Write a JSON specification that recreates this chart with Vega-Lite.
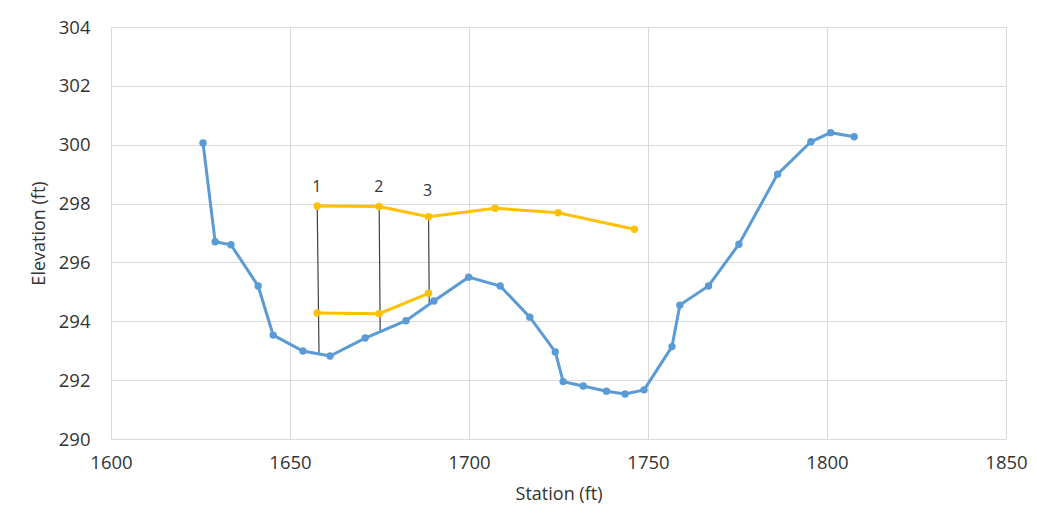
{
  "$schema": "https://vega.github.io/schema/vega-lite/v6.json",
  "width": 895,
  "height": 412,
  "autosize": "none",
  "padding": {"left": 111, "top": 27, "right": 31, "bottom": 92},
  "background": "white",
  "config": {
    "view": {"stroke": null},
    "font": "Open Sans",
    "axis": {
      "labelFont": "Open Sans",
      "titleFont": "Open Sans",
      "labelFontSize": 18.5,
      "titleFontSize": 18,
      "labelColor": "#333333",
      "titleColor": "#333333",
      "titleFontWeight": "normal",
      "gridColor": "#d9d9d9",
      "gridWidth": 1,
      "domain": false,
      "ticks": false,
      "labelFlush": false,
      "labelOverlap": false
    }
  },
  "datasets": {
    "bed": [
      {"station": 1625.7, "elev": 300.06},
      {"station": 1629.1, "elev": 296.7},
      {"station": 1633.5, "elev": 296.6},
      {"station": 1641.1, "elev": 295.2},
      {"station": 1645.3, "elev": 293.53},
      {"station": 1653.6, "elev": 292.99},
      {"station": 1661.2, "elev": 292.82},
      {"station": 1671.0, "elev": 293.43},
      {"station": 1682.4, "elev": 294.02},
      {"station": 1690.2, "elev": 294.69},
      {"station": 1699.9, "elev": 295.5},
      {"station": 1708.7, "elev": 295.2},
      {"station": 1717.0, "elev": 294.14},
      {"station": 1724.1, "elev": 292.96},
      {"station": 1726.3, "elev": 291.95},
      {"station": 1731.9, "elev": 291.8},
      {"station": 1738.4, "elev": 291.62},
      {"station": 1743.6, "elev": 291.53},
      {"station": 1748.9, "elev": 291.67},
      {"station": 1756.7, "elev": 293.14},
      {"station": 1758.9, "elev": 294.55},
      {"station": 1766.9, "elev": 295.2},
      {"station": 1775.4, "elev": 296.62},
      {"station": 1786.2, "elev": 299.0},
      {"station": 1795.5, "elev": 300.1},
      {"station": 1801.0, "elev": 300.41},
      {"station": 1807.6, "elev": 300.27}
    ],
    "ws": [
      {"series": "upper", "station": 1657.6, "elev": 297.92},
      {"series": "upper", "station": 1674.9, "elev": 297.9},
      {"series": "upper", "station": 1688.7, "elev": 297.55},
      {"series": "upper", "station": 1707.3, "elev": 297.84},
      {"series": "upper", "station": 1724.9, "elev": 297.69},
      {"series": "upper", "station": 1746.2, "elev": 297.13},
      {"series": "lower", "station": 1657.6, "elev": 294.28},
      {"series": "lower", "station": 1674.9, "elev": 294.26},
      {"series": "lower", "station": 1688.7, "elev": 294.95}
    ],
    "verticals": [
      {"x1": 1657.6, "y1": 297.92, "x2": 1658.1, "y2": 292.91},
      {"x1": 1674.9, "y1": 297.9, "x2": 1675.2, "y2": 293.63},
      {"x1": 1688.7, "y1": 297.55, "x2": 1688.9, "y2": 294.55}
    ],
    "labels": [
      {"station": 1657.5, "elev": 298.56, "label": "1"},
      {"station": 1674.8, "elev": 298.58, "label": "2"},
      {"station": 1688.4, "elev": 298.43, "label": "3"}
    ]
  },
  "layer": [
    {
      "data": {"name": "verticals"},
      "mark": {"type": "rule", "color": "#404040", "strokeWidth": 1.2},
      "encoding": {
        "x": {"field": "x1", "type": "quantitative", "scale": {"domain": [1600, 1850], "nice": false, "zero": false},
              "axis": {"values": [1600, 1650, 1700, 1750, 1800, 1850], "format": "d", "title": "Station (ft)", "labelPadding": 14, "titlePadding": 14, "grid": true}},
        "y": {"field": "y1", "type": "quantitative", "scale": {"domain": [290, 304], "nice": false, "zero": false},
              "axis": {"values": [290, 292, 294, 296, 298, 300, 302, 304], "format": "d", "title": "Elevation (ft)", "labelPadding": 21, "titlePadding": 10, "grid": true}},
        "x2": {"field": "x2"},
        "y2": {"field": "y2"}
      }
    },
    {
      "data": {"name": "bed"},
      "mark": {"type": "line", "color": "#5B9BD5", "strokeWidth": 3, "point": {"filled": true, "size": 55, "color": "#5B9BD5"}},
      "encoding": {
        "x": {"field": "station", "type": "quantitative"},
        "y": {"field": "elev", "type": "quantitative"}
      }
    },
    {
      "data": {"name": "ws"},
      "mark": {"type": "line", "color": "#FFC000", "strokeWidth": 3, "point": {"filled": true, "size": 55, "color": "#FFC000"}},
      "encoding": {
        "x": {"field": "station", "type": "quantitative"},
        "y": {"field": "elev", "type": "quantitative"},
        "detail": {"field": "series"}
      }
    },
    {
      "data": {"name": "labels"},
      "mark": {"type": "text", "font": "Open Sans", "fontSize": 16, "color": "#333333", "baseline": "middle", "align": "center"},
      "encoding": {
        "x": {"field": "station", "type": "quantitative"},
        "y": {"field": "elev", "type": "quantitative"},
        "text": {"field": "label"}
      }
    }
  ]
}
